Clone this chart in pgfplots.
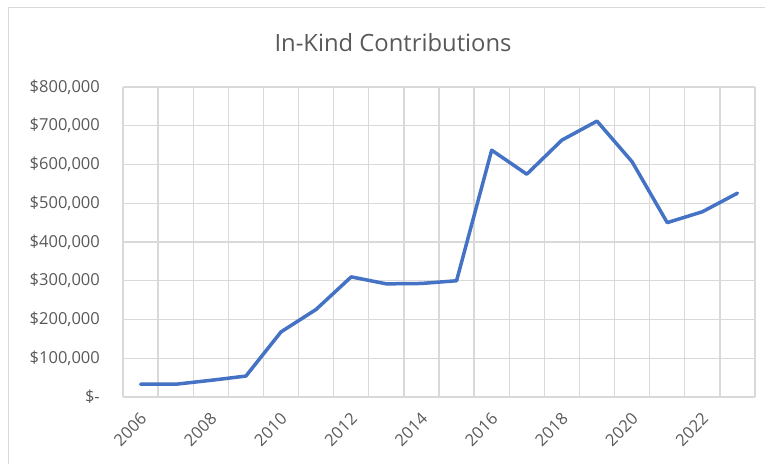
\documentclass[border=0pt]{standalone}
\usepackage{pgfplots}
\pgfplotsset{compat=1.18}
\usepackage{fontspec}
\setmainfont{Open Sans}
\definecolor{txt}{HTML}{595959}
\definecolor{gridc}{HTML}{D9D9D9}
\definecolor{linec}{HTML}{4472C4}
\begin{document}
\begin{tikzpicture}
\useasboundingbox (0,0) rectangle (765pt,464pt);
\draw[gridc, line width=1.3pt] (8.5pt,0) -- (8.5pt,456.5pt) -- (766pt,456.5pt);
\node[txt, font=\fontsize{23.8}{28}\selectfont] at (393pt,421pt) {In-Kind Contributions};
\begin{axis}[
  at={(123pt,67pt)}, anchor=south west, scale only axis,
  width=632pt, height=310pt,
  xmin=0, xmax=18, ymin=0, ymax=800000,
  scaled y ticks=false,
  axis line style={draw=none},
  xtick={0.5,2.5,...,16.5},
  xticklabels={2006,2008,2010,2012,2014,2016,2018,2020,2022},
  minor xtick={0,1,...,18},
  ytick={0,100000,...,800000},
  yticklabels={{\$-\hspace{9pt}},{\$100,000},{\$200,000},{\$300,000},{\$400,000},{\$500,000},{\$600,000},{\$700,000},{\$800,000}},
  xminorgrids=true, xmajorgrids=false, ymajorgrids=true,
  major grid style={gridc, line width=1.3pt},
  minor grid style={gridc, line width=1.3pt},
  major tick length=0pt, minor tick length=0pt,
  tick label style={txt, font=\fontsize{16.5}{19}\selectfont},
  yticklabel style={anchor=east, inner sep=0pt, xshift=-23pt},
  xticklabel style={xshift=3pt, rotate=45, anchor=east, inner sep=0pt},
  xticklabel shift=19pt,
  clip=false,
]
\addplot[linec, line width=3.5pt, line join=round, line cap=round] coordinates {
(0.5,33000) (1.5,33000) (2.5,43000) (3.5,54000) (4.5,168000) (5.5,226000)
(6.5,310000) (7.5,292000) (8.5,293000) (9.5,300000) (10.5,637000) (11.5,575000)
(12.5,663000) (13.5,712000) (14.5,607000) (15.5,450000) (16.5,478000) (17.5,526000)
};
\end{axis}
\end{tikzpicture}
\end{document}
